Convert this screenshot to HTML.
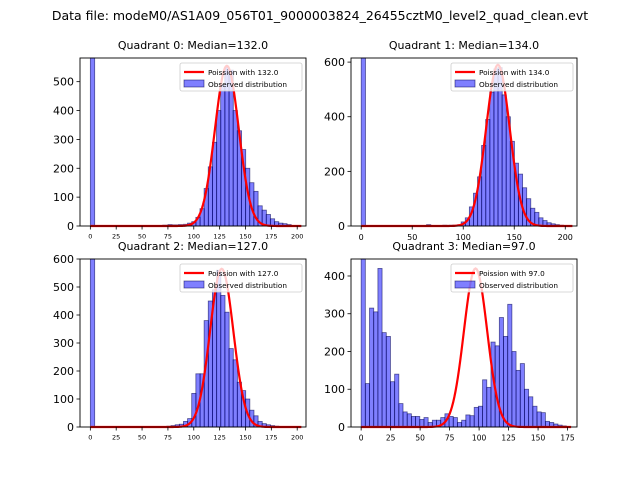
<!DOCTYPE html>
<html><head><meta charset="utf-8"><style>
body{margin:0;background:#fff;}
svg{display:block;font-family:"DejaVu Sans","Liberation Sans",sans-serif;}
</style></head><body>
<svg id="fig" width="640" height="480">
<text x="320" y="20" text-anchor="middle" font-size="12.5">Data file: modeM0/AS1A09_056T01_9000003824_26455cztM0_level2_quad_clean.evt</text>
</svg>
<script>
// Quadrant data: bin starts (counts per bin), medians, curve peaks
const q0Starts = [0,70,75,80,85,90,94,98,102,106,110,114,118,122,126,130,134,138,142,146,150,154,158,162,166,170,174,178,182,186,190];
const q0Counts = [600,3,5,4,5,6,10,15,30,60,130,205,290,400,490,550,540,400,330,265,200,150,120,70,55,40,25,15,10,8,5];
const q1Starts = [0,64,80,86,90,94,98,102,106,110,114,118,122,126,130,134,138,142,146,150,154,158,162,166,170,174,178,182,186,190,194];
const q1Counts = [615,5,3,3,3,5,15,30,70,120,180,295,390,490,575,580,480,400,310,230,190,140,100,65,50,30,20,12,8,5,3];
const q2Starts = [0,74,78,82,86,90,94,98,102,106,110,114,118,122,126,130,134,138,142,146,150,154,158,162,166,170,174,178];
const q2Counts = [600,3,5,8,10,20,30,120,190,190,380,450,490,560,470,410,280,240,160,130,100,60,40,20,12,8,5,3];
const q3Counts = [445,115,315,305,420,250,240,120,140,62,40,35,28,28,20,25,12,18,18,25,35,28,25,12,18,32,30,52,55,125,105,225,215,290,240,325,200,150,168,100,80,55,40,38,15,12,8,5,3];
const q3BinWidth = 3.55;
const medians = [132.0,134.0,127.0,97.0];
const curvePeaks = [555,590,565,420];
const xTicks = [[0,25,50,75,100,125,150,175,200],[0,50,100,150,200],[0,25,50,75,100,125,150,175,200],[0,25,50,75,100,125,150,175]];
const yTicks = [[0,100,200,300,400,500],[0,200,400,600],[0,100,200,300,400,500,600],[0,100,200,300,400]];

const NS="http://www.w3.org/2000/svg";
const svg=document.getElementById('fig');
function mk(tag,attrs,parent){const e=document.createElementNS(NS,tag);for(const k in attrs)e.setAttribute(k,attrs[k]);(parent||svg).appendChild(e);return e;}

const panels=[
 {x0:80,y0:58,w:226,h:168,xmin:-10,xmax:208.5,ymax:582,starts:q0Starts,counts:q0Counts,bw:4.2,xfs:6.5,name:'quadrant-0'},
 {x0:351,y0:58,w:226,h:168,xmin:-10,xmax:211.5,ymax:615,starts:q1Starts,counts:q1Counts,bw:4.2,xfs:8,name:'quadrant-1'},
 {x0:80,y0:259,w:226,h:168,xmin:-10,xmax:208.5,ymax:600,starts:q2Starts,counts:q2Counts,bw:4.2,xfs:6.5,name:'quadrant-2'},
 {x0:351,y0:259,w:226,h:168,xmin:-8.6,xmax:183,ymax:445,starts:null,counts:q3Counts,bw:q3BinWidth,xfs:7.5,name:'quadrant-3'}
];

panels.forEach((p,i)=>{
 const g=mk('g',{});
 
 
 const sx=v=>p.x0+(v-p.xmin)/(p.xmax-p.xmin)*p.w;
 const sy=v=>p.y0+p.h-Math.min(v,p.ymax)/p.ymax*p.h;
 const t=mk('text',{x:p.x0+p.w/2,y:p.y0-9,'text-anchor':'middle','font-size':'11'},g);
 t.textContent='Quadrant '+i+': Median='+medians[i].toFixed(1);
 
 
 p.counts.forEach((c,j)=>{
  const s=p.starts?p.starts[j]:j*p.bw;
  const r=mk('rect',{x:sx(s),y:sy(c),width:sx(s+p.bw)-sx(s),height:sy(0)-sy(c),fill:'rgba(0,0,255,0.5)',stroke:'rgba(0,0,80,0.6)','stroke-width':'0.8'},g);
  
  
 });
 const mu=medians[i],sd=Math.sqrt(mu);
 let d='';
 for(let k=0;k<=Math.round(p.xmax-5);k++){
  const v=curvePeaks[i]*Math.exp(-((k-mu)**2)/(2*sd*sd));
  d+=(k?'L':'M')+sx(k).toFixed(2)+','+sy(v).toFixed(2);
 }
 const cl=mk('path',{d:d,fill:'none',stroke:'#ff0000','stroke-width':'2.2'},g);
 
 
 const fr=mk('rect',{x:p.x0,y:p.y0,width:p.w,height:p.h,fill:'none',stroke:'#000','stroke-width':'0.9'},g);
 
 
 xTicks[i].forEach(v=>{
  mk('line',{x1:sx(v),x2:sx(v),y1:p.y0+p.h,y2:p.y0+p.h+3.5,stroke:'#000','stroke-width':'0.8'},g);
  const tl=mk('text',{x:sx(v),y:p.y0+p.h+6+p.xfs,'text-anchor':'middle','font-size':p.xfs},g);
  tl.textContent=v;
  
  
 });
 yTicks[i].forEach(v=>{
  mk('line',{x1:p.x0-3.5,x2:p.x0,y1:sy(v),y2:sy(v),stroke:'#000','stroke-width':'0.8'},g);
  const tl=mk('text',{x:p.x0-6,y:sy(v)+4,'text-anchor':'end','font-size':'11'},g);
  tl.textContent=v;
  
  
 });
 const lx=p.x0+p.w-126,ly=p.y0+5;
 const lg=mk('g',{},g);
 
 
 mk('rect',{x:lx,y:ly,width:122,height:28,fill:'rgba(255,255,255,0.8)',stroke:'#ccc','stroke-width':'0.8',rx:2},lg);
 mk('line',{x1:lx+4,x2:lx+24,y1:ly+9,y2:ly+9,stroke:'#f00','stroke-width':'2.2'},lg);
 const l1=mk('text',{x:lx+28,y:ly+12,'font-size':'7.3'},lg);
 l1.textContent='Poission with '+medians[i].toFixed(1);
 
 
 mk('rect',{x:lx+4,y:ly+17,width:20,height:7,fill:'rgba(0,0,255,0.5)',stroke:'rgba(0,0,80,0.6)','stroke-width':'0.8'},lg);
 const l2=mk('text',{x:lx+28,y:ly+24,'font-size':'7.3'},lg);
 l2.textContent='Observed distribution';
 
 
});
</script>
</body></html>
